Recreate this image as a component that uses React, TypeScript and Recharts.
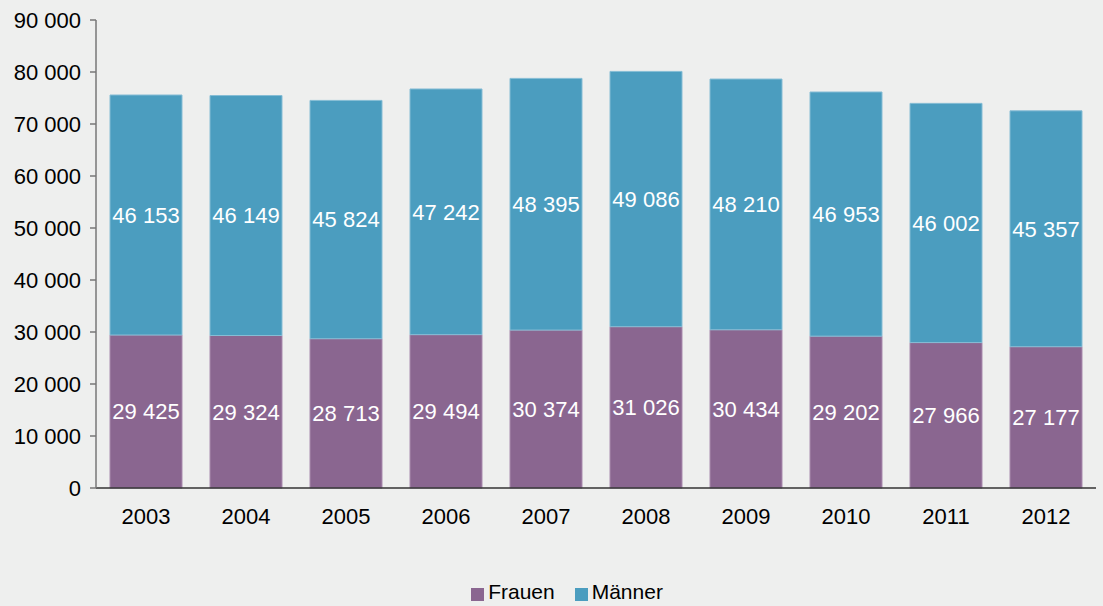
import { BarChart, Bar, XAxis, YAxis, Legend, LabelList } from "recharts";

const years = ["2003", "2004", "2005", "2006", "2007", "2008", "2009", "2010", "2011", "2012"];
const frauen = [29425, 29324, 28713, 29494, 30374, 31026, 30434, 29202, 27966, 27177];
const maenner = [46153, 46149, 45824, 47242, 48395, 49086, 48210, 46953, 46002, 45357];
const yTicks = [0, 10000, 20000, 30000, 40000, 50000, 60000, 70000, 80000, 90000];
const boundaryTicks = [0, 1, 2, 3, 4, 5, 6, 7, 8, 9, 10];

const data = years.map((year, i) => ({
  year,
  Frauen: frauen[i],
  Männer: maenner[i],
}));

const fmt = (v: number) => String(v).replace(/\B(?=(\d{3})+(?!\d))/g, " ");

const FONT = "'Liberation Sans', Arial, sans-serif";

export default function App() {
  return (
    <div style={{ position: "fixed", left: 0, top: 0, width: 1103, height: 606, background: "#eeefee", fontFamily: FONT }}>
      <BarChart
        width={1103}
        height={606}
        data={data}
        margin={{ top: 20, right: 7, left: 10, bottom: 0 }}
        barCategoryGap="14%"
      >
        <XAxis
          xAxisId="cat"
          dataKey="year"
          tickLine={false}
          axisLine={{ stroke: "#333", strokeWidth: 1.5 }}
          tick={{ fill: "#000", fontSize: 22, fontFamily: FONT }}
          tickMargin={14}
          height={92}
        />
        <XAxis
          xAxisId="edges"
          type="number"
          domain={[0, 10]}
          ticks={boundaryTicks}
          tick={false}
          axisLine={false}
          tickLine={{ stroke: "#333", strokeWidth: 1.5 }}
          tickSize={7}
          height={0}
          orientation="bottom"
        />
        <YAxis
          domain={[0, 90000]}
          ticks={yTicks}
          tickFormatter={fmt}
          width={86}
          axisLine={{ stroke: "#777", strokeWidth: 1.5 }}
          tickLine={{ stroke: "#777", strokeWidth: 1.5 }}
          tickSize={6}
          tickMargin={9}
          tick={{ fill: "#000", fontSize: 22, fontFamily: FONT }}
          interval={0}
        />
        <Legend
          verticalAlign="bottom"
          align="center"
          iconType="square"
          iconSize={13}
          height={26}
          wrapperStyle={{ paddingLeft: 19 }}
          formatter={(v: string) => (
            <span style={{ color: "#000", fontSize: 21, fontFamily: FONT, marginRight: v === "Frauen" ? 10 : 0 }}>{v}</span>
          )}
        />
        <Bar xAxisId="cat" dataKey="Frauen" stackId="a" fill="#8a6690" stroke="#a98bae" strokeWidth={1} isAnimationActive={false}>
          <LabelList dataKey="Frauen" position="center" formatter={(v: any) => fmt(v)} fill="#fff" fontSize={22} fontFamily={FONT} />
        </Bar>
        <Bar xAxisId="cat" dataKey="Männer" stackId="a" fill="#4b9dbf" stroke="#86bdd5" strokeWidth={1} isAnimationActive={false}>
          <LabelList dataKey="Männer" position="center" formatter={(v: any) => fmt(v)} fill="#fff" fontSize={22} fontFamily={FONT} />
        </Bar>
      </BarChart>
    </div>
  );
}
